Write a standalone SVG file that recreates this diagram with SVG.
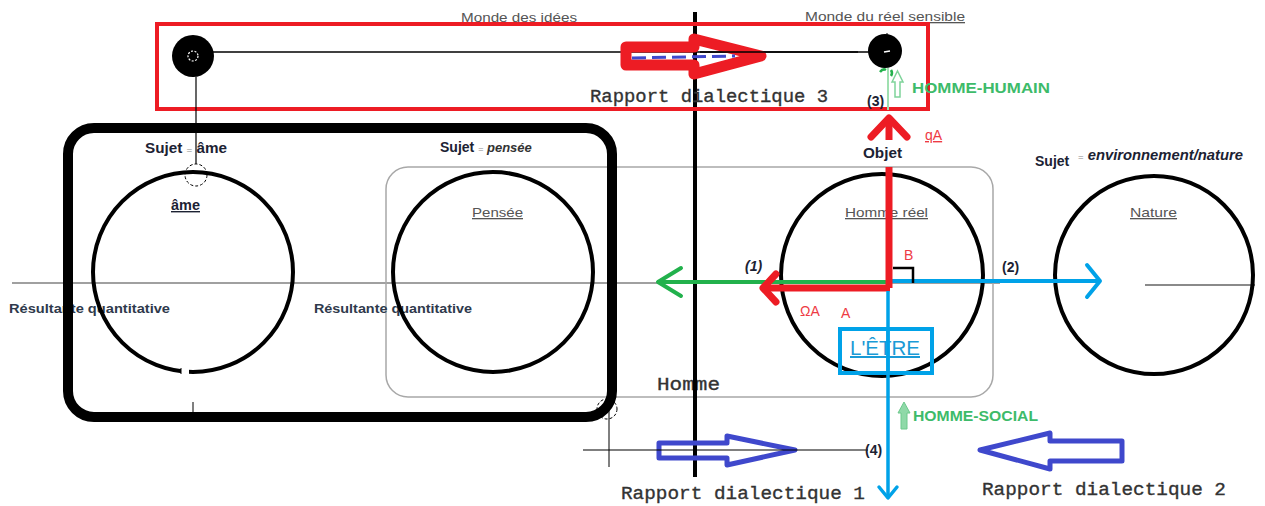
<svg xmlns="http://www.w3.org/2000/svg" width="1265" height="506" viewBox="0 0 1265 506">
<style>
.sans{font-family:"Liberation Sans",Arial,sans-serif}
.mono{font-family:"Liberation Mono","Courier New",monospace;font-size:19px;fill:#333;stroke:#333;stroke-width:0.35}
.ttl{font-family:"Liberation Sans",Arial,sans-serif;font-size:13px;fill:#555;text-decoration:underline}
.suj{font-family:"Liberation Sans",Arial,sans-serif;font-size:14px;font-weight:bold;fill:#1c2233}
.eq{font-size:9px;fill:#888;font-weight:normal}
.res{font-family:"Liberation Sans",Arial,sans-serif;font-size:13px;font-weight:bold;fill:#2f3a4c}
.green{font-family:"Liberation Sans",Arial,sans-serif;font-size:14px;font-weight:bold;fill:#3dbb6a}
.red{font-family:"Liberation Sans",Arial,sans-serif;font-size:14px;fill:#ee3a44}
.circ{fill:none;stroke:#000;stroke-width:4}
.dash{fill:none;stroke:#000;stroke-width:1;stroke-dasharray:3 2}
.chev{fill:none;stroke-linecap:round;stroke-linejoin:round}
</style>

<!-- background lines -->
<g id="axes">
<line x1="12" y1="283" x2="1000" y2="283" stroke="#a0a0a0" stroke-width="2"/>
<line x1="1145" y1="285" x2="1255" y2="285" stroke="#8a8a8a" stroke-width="2"/>
</g>

<g id="homme-box">
<rect x="386" y="167" width="607" height="230" rx="22" fill="none" stroke="#a8a8a8" stroke-width="1.5"/>
</g>

<g id="node-ame">
<text class="res" x="9" y="313" textLength="161" lengthAdjust="spacingAndGlyphs">Résultante quantitative</text>
<circle class="circ" cx="193" cy="272" r="100"/>
<rect x="181" y="366" width="8" height="10" fill="#fff"/>
<line x1="181" y1="368" x2="181" y2="374" stroke="#000" stroke-width="1"/>
<text class="suj" x="145" y="153" textLength="82" lengthAdjust="spacingAndGlyphs">Sujet <tspan class="eq">=</tspan> âme</text>
<text class="suj" x="171" y="210" font-size="13" text-decoration="underline" textLength="29" lengthAdjust="spacingAndGlyphs">âme</text>
<circle class="dash" cx="196" cy="175" r="11"/>
</g>

<g id="node-pensee">
<text class="res" x="314" y="313" textLength="158" lengthAdjust="spacingAndGlyphs">Résultante quantitative</text>
<circle class="circ" cx="493" cy="272" r="100"/>
<text class="suj" x="440" y="152">Sujet <tspan font-style="italic" fill="#333" font-size="13"><tspan class="eq" font-style="normal">=</tspan> pensée</tspan></text>
<text class="ttl" x="472" y="217" textLength="51" lengthAdjust="spacingAndGlyphs">Pensée</text>
</g>

<g id="node-homme-reel">
<circle class="circ" cx="882" cy="275" r="101"/>
<text class="ttl" x="845" y="217" textLength="83" lengthAdjust="spacingAndGlyphs">Homme réel</text>
</g>

<g id="node-nature">
<circle class="circ" cx="1154" cy="275" r="99"/>
<text class="ttl" x="1130" y="217" textLength="47" lengthAdjust="spacingAndGlyphs">Nature</text>
<text class="suj" x="1035" y="166">Sujet</text>
<text class="suj" x="1078" y="160" font-style="italic" fill="#333" font-size="13" textLength="165" lengthAdjust="spacingAndGlyphs"><tspan class="eq" font-style="normal">=</tspan> environnement/nature</text>
</g>

<g id="frame-ame-pensee">
<rect x="68" y="128" width="544" height="289" rx="26" fill="none" stroke="#000" stroke-width="10"/>
<circle class="dash" cx="607" cy="409" r="10"/>
<line x1="609" y1="409" x2="609" y2="467" stroke="#000" stroke-width="1"/>
<line x1="193" y1="402" x2="193" y2="413" stroke="#000" stroke-width="1"/>
</g>

<g id="separator">
<line x1="695" y1="12" x2="695" y2="477" stroke="#000" stroke-width="4"/>
<text class="mono" x="657" y="390" textLength="63" lengthAdjust="spacingAndGlyphs">Homme</text>
<line x1="695" y1="370" x2="695" y2="395" stroke="#000" stroke-width="4"/>
<text class="ttl" x="461" y="22" textLength="116" lengthAdjust="spacingAndGlyphs">Monde des idées</text>
<text class="ttl" x="805" y="21" textLength="160" lengthAdjust="spacingAndGlyphs">Monde du réel sensible</text>
</g>

<g id="rapport3">
<rect x="157" y="24" width="771" height="85" fill="none" stroke="#ed1c24" stroke-width="4"/>
<line x1="212" y1="52" x2="870" y2="52" stroke="#000" stroke-width="1.5"/>
<circle cx="193" cy="56" r="21" fill="#000"/>
<circle cx="193" cy="56" r="5" fill="none" stroke="#fff" stroke-width="1.2" stroke-dasharray="2 1.5"/>
<line x1="196" y1="77" x2="196" y2="164" stroke="#000" stroke-width="1.2"/>
<circle cx="885" cy="51" r="17" fill="#000"/>
<line x1="884" y1="52" x2="890" y2="51" stroke="#fff" stroke-width="1.5"/>
<line x1="887" y1="33" x2="887" y2="40" stroke="#000" stroke-width="1"/>
<polygon points="626,47 694,47 694,39 761,56 694,74 694,65 626,65" fill="none" stroke="#ed1c24" stroke-width="11" stroke-linejoin="round"/>
<line x1="632" y1="58" x2="735" y2="56" stroke="#3f48cc" stroke-width="3" stroke-dasharray="14 6"/>
<line x1="700" y1="52" x2="858" y2="52" stroke="#000" stroke-width="1.5"/>
<text class="mono" x="590" y="102" textLength="238" lengthAdjust="spacingAndGlyphs">Rapport dialectique 3</text>
</g>

<g id="connectors">
<!-- green (1) -->
<line x1="657" y1="282" x2="888" y2="282" stroke="#22b14c" stroke-width="4"/>
<polyline class="chev" points="681,268 658,282 681,296" stroke="#22b14c" stroke-width="4"/>
<!-- blue (2) -->
<line x1="890" y1="281" x2="1099" y2="281" stroke="#00a2e8" stroke-width="4"/>
<polyline class="chev" points="1087,265 1100,281 1087,297" stroke="#00a2e8" stroke-width="4"/>
<!-- red horizontal -->
<line x1="765" y1="288" x2="890" y2="288" stroke="#ed1c24" stroke-width="7"/>
<polyline class="chev" points="776,274 763,288 776,302" stroke="#ed1c24" stroke-width="7"/>
<!-- red vertical -->
<line x1="889" y1="288" x2="889" y2="167" stroke="#ed1c24" stroke-width="7"/>
<line x1="889" y1="140" x2="889" y2="118" stroke="#ed1c24" stroke-width="7"/>
<polyline class="chev" points="871,137 889,118 907,137" stroke="#ed1c24" stroke-width="7"/>
<!-- blue vertical -->
<line x1="888" y1="291" x2="888" y2="497" stroke="#00a2e8" stroke-width="3.5"/>
<polyline class="chev" points="879,487 888,498 897,487" stroke="#00a2e8" stroke-width="3.5"/>
<!-- right angle -->
<polyline points="893,268 913,268 913,283" fill="none" stroke="#000" stroke-width="2.5"/>
<!-- green link (3) -->
<line x1="888" y1="68" x2="888" y2="110" stroke="#9fe0b0" stroke-width="2"/>
<path d="M880,72 q3,-4 6,-2 M891,70 q2,3 0,6" fill="none" stroke="#22b14c" stroke-width="2.5"/>
<polygon points="892,82 897.5,71 903,82 900,82 900,97 895,97 895,82" fill="none" stroke="#7fd39a" stroke-width="1.5"/>
<polygon points="898,413 904,402 910,413 907,413 907,429 901,429 901,413" fill="#8fd9a8" stroke="#6cc98c" stroke-width="1"/>
<!-- (4) line -->
<polygon points="659,443 727,443 727,436 795,450 727,465 727,458 659,458" fill="none" stroke="#3f48cc" stroke-width="5" stroke-linejoin="round"/>
<line x1="583" y1="450" x2="868" y2="450" stroke="#000" stroke-width="1.2"/>
<polygon points="980,450 1050,433 1050,441 1122,441 1122,461 1050,461 1050,469" fill="none" stroke="#3f48cc" stroke-width="5" stroke-linejoin="round"/>
</g>

<g id="labels">
<rect x="860" y="141" width="44" height="18" fill="#fff"/>
<text class="suj" x="863" y="158" textLength="39" lengthAdjust="spacingAndGlyphs">Objet</text>
<text class="red" x="925" y="140" text-decoration="underline">qA</text>
<text class="suj" x="867" y="106" font-size="12" fill="#333">(3)</text>
<text class="green" x="912" y="93" textLength="138" lengthAdjust="spacingAndGlyphs">HOMME-HUMAIN</text>
<text class="green" x="913" y="421" textLength="125" lengthAdjust="spacingAndGlyphs">HOMME-SOCIAL</text>
<text class="suj" x="865" y="455" font-size="12" fill="#333">(4)</text>
<text class="suj" x="745" y="271" font-size="12" font-style="italic" fill="#333">(1)</text>
<text class="suj" x="1002" y="272" font-size="12" fill="#333">(2)</text>
<text class="red" x="904" y="260">B</text>
<text class="red" x="800" y="316" font-size="13">ΩA</text>
<text class="red" x="841" y="318">A</text>
<rect x="840" y="329" width="92" height="44" fill="none" stroke="#00a2e8" stroke-width="4"/>
<text x="850" y="355" font-family="'Liberation Sans',Arial,sans-serif" font-size="20" fill="#1a9ad6" text-decoration="underline" textLength="70" lengthAdjust="spacingAndGlyphs">L'ÊTRE</text>
<line x1="888" y1="330" x2="888" y2="372" stroke="#00a2e8" stroke-width="3.5"/>
<text class="mono" x="621" y="499" textLength="244" lengthAdjust="spacingAndGlyphs">Rapport dialectique 1</text>
<text class="mono" x="982" y="495" textLength="244" lengthAdjust="spacingAndGlyphs">Rapport dialectique 2</text>
</g>
</svg>
